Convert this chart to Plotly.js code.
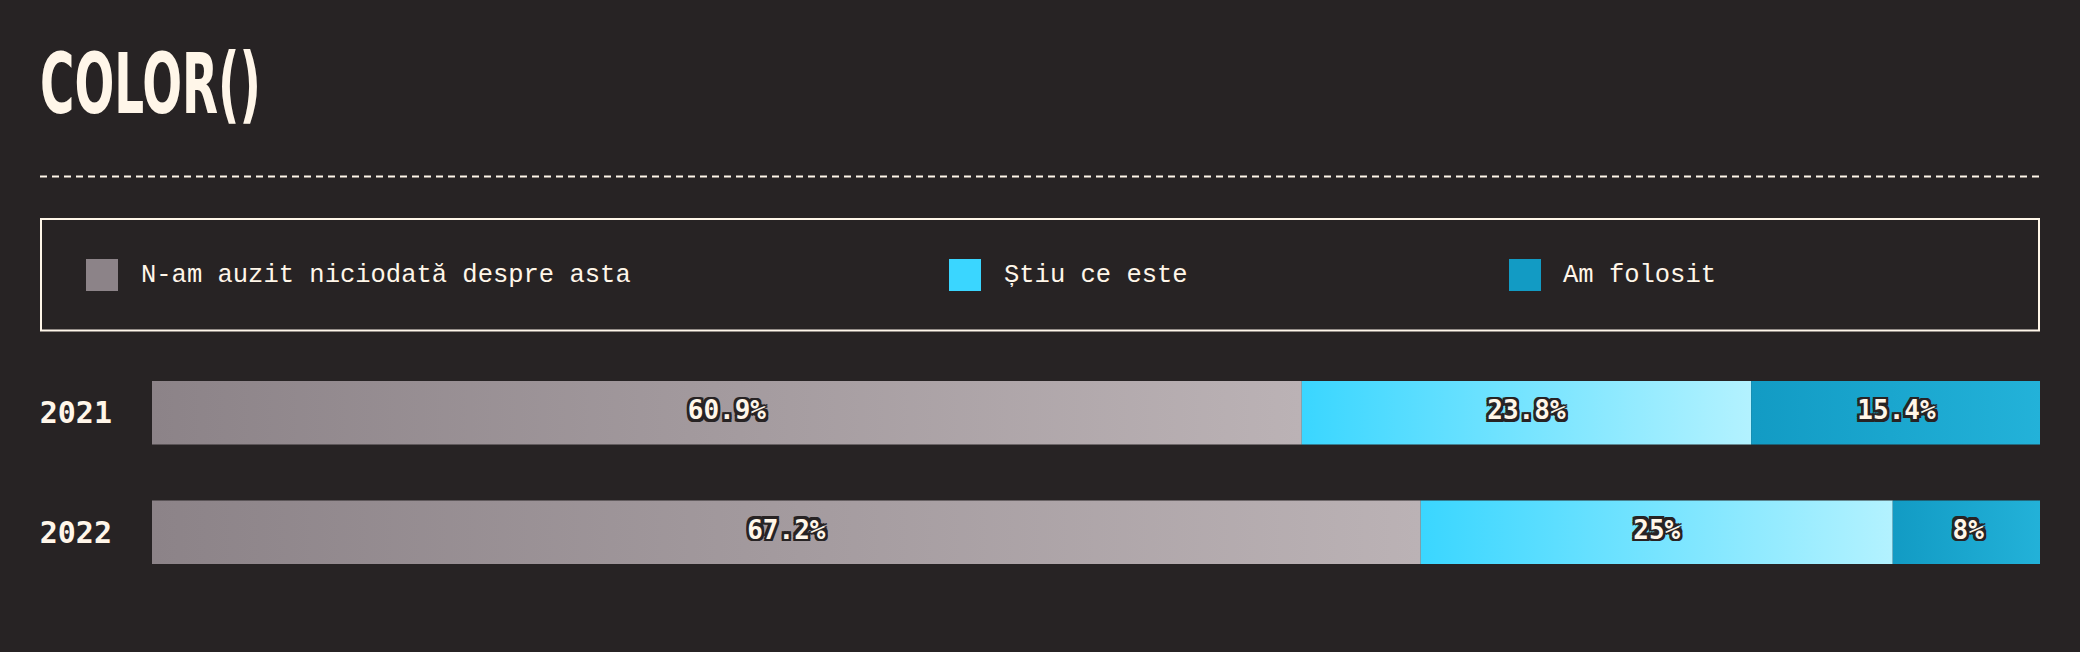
<!DOCTYPE html>
<html>
<head>
<meta charset="utf-8">
<script src="https://cdn.plot.ly/plotly-3.0.1.min.js"></script>
<style>
  html, body { margin: 0; padding: 0; background: #272324; }
  #chart { width: 2080px; height: 652px; }
</style>
</head>
<body>
<div id="chart"></div>
<script>
// ---------------- data ----------------
const years = ['2021', '2022'];
const seriesNames = ['N-am auzit niciodată despre asta', 'Știu ce este', 'Am folosit'];
const neverHeard = [60.9, 67.2];
const knowIt = [23.8, 25];
const used = [15.4, 8];
const chartTitle = 'COLOR()';

// ---------------- style ----------------
const W = 2080, H = 652;
const M = { l: 152, r: 40, t: 353, b: 60 };
const PW = W - M.l - M.r, PH = H - M.t - M.b;
const BG = '#272324';
const CREAM = '#fff6e9';
const gradients = [
  ['#8c8388', '#bbb2b5'],
  ['#3ad6ff', '#b3f2ff'],
  ['#129bc4', '#23b2d9']
];
const BAR_HALF = 0.265;
const legendSquareX = [86, 949, 1509];
const legendTextX = [139, 1002, 1561];
const MONO = '"Liberation Mono", "DejaVu Sans Mono", monospace';
const MONO_B = '"DejaVu Sans Mono", "Liberation Mono", monospace';

// pixel -> paper helpers for decorations
const px = x => (x - M.l) / PW;
const py = y => (H - M.b - y) / PH;

const series = [neverHeard, knowIt, used];
const data = [];

// gradient-filled bar segments (built from the values through the axes)
series.forEach((vals, s) => {
  vals.forEach((v, i) => {
    let start = 0;
    for (let k = 0; k < s; k++) start += series[k][i];
    const end = start + v;
    data.push({
      type: 'scatter',
      mode: 'lines',
      x: [start, end, end, start, start],
      y: [i - BAR_HALF, i - BAR_HALF, i + BAR_HALF, i + BAR_HALF, i - BAR_HALF],
      fill: 'toself',
      fillcolor: gradients[s][0],
      fillgradient: {
        type: 'horizontal',
        colorscale: [[0, gradients[s][0]], [1, gradients[s][1]]]
      },
      line: { width: 0, color: 'rgba(0,0,0,0)' },
      hoverinfo: 'skip',
      showlegend: false,
      name: seriesNames[s]
    });
  });
});

// value labels
const outline = [];
for (const dx of [-2.5, 0, 2.5]) for (const dy of [-2.5, 0, 2.5]) if (dx || dy) outline.push(`${dx}px ${dy}px 0 ${BG}`);
series.forEach((vals, s) => {
  const xs = vals.map((v, i) => {
    let start = 0;
    for (let k = 0; k < s; k++) start += series[k][i];
    return start + v / 2;
  });
  data.push({
    type: 'scatter',
    mode: 'text',
    x: xs,
    y: vals.map((v, i) => i),
    text: vals.map(v => v + '%'),
    textposition: 'middle center',
    textfont: { family: MONO_B, size: 26, weight: 700, color: CREAM, shadow: outline.join(', ') },
    cliponaxis: false,
    hoverinfo: 'skip',
    showlegend: false,
    name: seriesNames[s]
  });
});

// legend (drawn manually so spacing matches)
const shapes = [
  { type: 'line', xref: 'paper', yref: 'paper', x0: px(40), x1: px(2040), y0: py(176.5), y1: py(176.5),
    line: { color: CREAM, width: 2, dash: '7px,5px' } },
  { type: 'rect', xref: 'paper', yref: 'paper', x0: px(41), x1: px(2039), y0: py(219), y1: py(330.5),
    line: { color: CREAM, width: 2 }, fillcolor: 'rgba(0,0,0,0)' }
];
const annotations = [];
seriesNames.forEach((name, s) => {
  shapes.push({ type: 'rect', xref: 'paper', yref: 'paper',
    x0: px(legendSquareX[s]), x1: px(legendSquareX[s] + 32), y0: py(259), y1: py(291),
    fillcolor: gradients[s][0], line: { width: 0 } });
  annotations.push({ xref: 'paper', yref: 'paper', x: px(legendTextX[s]), y: py(275),
    xanchor: 'left', yanchor: 'middle', showarrow: false, text: name,
    font: { family: MONO, size: 25.5, color: CREAM } });
});

const layout = {
  width: W, height: H,
  margin: M,
  paper_bgcolor: BG, plot_bgcolor: BG,
  title: {
    text: chartTitle,
    font: { family: '"Liberation Sans Narrow", "Arial Narrow", "DejaVu Sans Condensed", sans-serif', size: 84, weight: 700, color: CREAM },
    xref: 'container', yref: 'container',
    x: 40 / W, xanchor: 'left',
    y: 1 - 84 / H, yanchor: 'middle'
  },
  xaxis: { range: [0, 100], visible: false, fixedrange: true },
  yaxis: {
    range: [1.5, -0.5],
    tickvals: years.map((y, i) => i),
    ticktext: years,
    tickfont: { family: MONO_B, size: 30, weight: 700, color: CREAM },
    ticks: 'outside', ticklen: 33, tickcolor: 'rgba(0,0,0,0)',
    showgrid: false, zeroline: false, showline: false, fixedrange: true
  },
  shapes: shapes,
  annotations: annotations,
  showlegend: false
};

Plotly.newPlot('chart', data, layout, { staticPlot: true, displayModeBar: false }).then(gd => {
  const t = gd.querySelector('.gtitle');
  if (t) {
    const bb = t.getBBox();
    const k = 221 / bb.width;
    if (k < 1) {
      t.style.transformBox = 'fill-box';
      t.style.transformOrigin = 'left center';
      t.style.transform = 'scaleX(' + k + ')';
    }
  }
});
</script>
</body>
</html>
